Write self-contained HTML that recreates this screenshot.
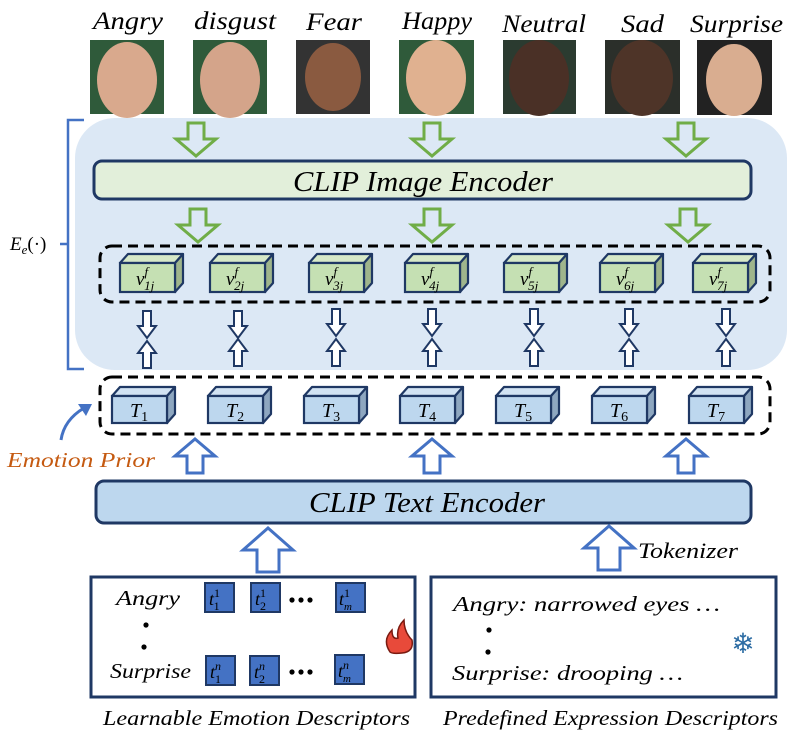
<!DOCTYPE html>
<html><head><meta charset="utf-8"><style>
html,body{margin:0;padding:0;background:#fff;}
svg{display:block;}
text{font-family:"Liberation Serif",serif;font-style:italic;}
</style></head><body>
<svg width="796" height="738" viewBox="0 0 796 738" xmlns="http://www.w3.org/2000/svg">
<defs>
<g id="cg">
<polygon points="0,0 8,-9 63,-9 55,0" fill="#d7e9c8" stroke="#1f3864" stroke-width="2.2" stroke-linejoin="round"/>
<polygon points="55,0 63,-9 63,20 55,29" fill="#9fb58c" stroke="#1f3864" stroke-width="2.2" stroke-linejoin="round"/>
<rect x="0" y="0" width="55" height="29" fill="#c5e0b3" stroke="#1f3864" stroke-width="2.2"/>
</g>
<g id="cb">
<polygon points="0,0 8,-9 63,-9 55,0" fill="#d2e3f3" stroke="#1f3864" stroke-width="2.2" stroke-linejoin="round"/>
<polygon points="55,0 63,-9 63,18 55,27" fill="#8ea7c0" stroke="#1f3864" stroke-width="2.2" stroke-linejoin="round"/>
<rect x="0" y="0" width="55" height="27" fill="#bdd7ee" stroke="#1f3864" stroke-width="2.2"/>
</g>
<polygon id="ga" points="-8,0 8,0 8,16 20,16 0,33 -20,16 -8,16" fill="none" stroke="#70ad47" stroke-width="3"/>
<polygon id="sd" points="-4,0 4,0 4,15 9,15 0,27 -9,15 -4,15" fill="#fff" stroke="#1f3864" stroke-width="2"/>
<polygon id="su" points="-4,27 4,27 4,12 9,12 0,0 -9,12 -4,12" fill="#fff" stroke="#1f3864" stroke-width="2"/>
<polygon id="bu" points="-8,34 8,34 8,17 20,17 0,0 -20,17 -8,17" fill="#fff" stroke="#4472c4" stroke-width="3"/>
<polygon id="bu2" points="-11,44 11,44 11,22 25,22 0,0 -25,22 -11,22" fill="#fff" stroke="#4472c4" stroke-width="3"/>
<g id="tsq"><rect x="0" y="0" width="29" height="29" fill="#4472c4" stroke="#1f3864" stroke-width="2"/></g>
</defs>

<g font-size="25" fill="#000" lengthAdjust="spacingAndGlyphs">
<text x="93" y="29" textLength="70" lengthAdjust="spacingAndGlyphs">Angry</text>
<text x="194" y="29" textLength="82" lengthAdjust="spacingAndGlyphs">disgust</text>
<text x="306" y="30" textLength="56" lengthAdjust="spacingAndGlyphs">Fear</text>
<text x="402" y="29" textLength="70" lengthAdjust="spacingAndGlyphs">Happy</text>
<text x="502" y="32" textLength="84" lengthAdjust="spacingAndGlyphs">Neutral</text>
<text x="621" y="32" textLength="43" lengthAdjust="spacingAndGlyphs">Sad</text>
<text x="690" y="32" textLength="93" lengthAdjust="spacingAndGlyphs">Surprise</text>
</g>
<g>
<rect x="90" y="40" width="74" height="74" fill="#2f5a3a"/><ellipse cx="127" cy="80" rx="30" ry="38" fill="#d9a98d"/>
<rect x="193" y="40" width="74" height="74" fill="#2f5a3a"/><ellipse cx="230" cy="80" rx="30" ry="38" fill="#d4a48a"/>
<rect x="296" y="40" width="74" height="74" fill="#333"/><ellipse cx="333" cy="77" rx="28" ry="34" fill="#8a5a40"/>
<rect x="399" y="40" width="75" height="74" fill="#2f5a3a"/><ellipse cx="436" cy="78" rx="30" ry="38" fill="#e0b190"/>
<rect x="503" y="40" width="73" height="74" fill="#2b3b30"/><ellipse cx="539" cy="78" rx="30" ry="38" fill="#4a3026"/>
<rect x="605" y="40" width="75" height="74" fill="#2b2f2a"/><ellipse cx="642" cy="78" rx="31" ry="38" fill="#4e3428"/>
<rect x="697" y="40" width="75" height="75" fill="#222"/><ellipse cx="734" cy="80" rx="28" ry="36" fill="#d9ad90"/>
</g>

<rect x="75" y="118" width="712" height="252" rx="40" fill="#dce8f5"/>
<path d="M84,120 H68 V369 H84 M68,244 H60" fill="none" stroke="#4472c4" stroke-width="2.5"/>
<text x="10" y="250" font-size="19">E<tspan font-size="13" dy="4">e</tspan><tspan dy="-4" style="font-style:normal">(·)</tspan></text>

<use href="#ga" x="196" y="123"/><use href="#ga" x="432" y="123"/><use href="#ga" x="686" y="123"/>
<rect x="94" y="161" width="657" height="38" rx="8" fill="#e2efda" stroke="#1f3864" stroke-width="3"/>
<text x="293" y="191" font-size="28" textLength="260" lengthAdjust="spacingAndGlyphs">CLIP Image Encoder</text>
<use href="#ga" x="198" y="209"/><use href="#ga" x="432" y="209"/><use href="#ga" x="688" y="209"/>

<rect x="100" y="246" width="670" height="56" rx="12" fill="none" stroke="#000" stroke-width="3" stroke-dasharray="10,6"/>
<g>
<use href="#cg" x="120" y="263"/><use href="#cg" x="210" y="263"/><use href="#cg" x="309" y="263"/><use href="#cg" x="405" y="263"/><use href="#cg" x="504" y="263"/><use href="#cg" x="600" y="263"/><use href="#cg" x="693" y="263"/>
</g>
<g font-size="19">
<text x="136" y="285">v<tspan font-size="13" dy="-9">f</tspan><tspan font-size="13" dx="-4" dy="14">1j</tspan></text>
<text x="226" y="285">v<tspan font-size="13" dy="-9">f</tspan><tspan font-size="13" dx="-4" dy="14">2j</tspan></text>
<text x="325" y="285">v<tspan font-size="13" dy="-9">f</tspan><tspan font-size="13" dx="-4" dy="14">3j</tspan></text>
<text x="421" y="285">v<tspan font-size="13" dy="-9">f</tspan><tspan font-size="13" dx="-4" dy="14">4j</tspan></text>
<text x="520" y="285">v<tspan font-size="13" dy="-9">f</tspan><tspan font-size="13" dx="-4" dy="14">5j</tspan></text>
<text x="616" y="285">v<tspan font-size="13" dy="-9">f</tspan><tspan font-size="13" dx="-4" dy="14">6j</tspan></text>
<text x="709" y="285">v<tspan font-size="13" dy="-9">f</tspan><tspan font-size="13" dx="-4" dy="14">7j</tspan></text>
</g>
<g>
<use href="#sd" x="147" y="311"/><use href="#su" x="147" y="341"/>
<use href="#sd" x="238" y="311"/><use href="#su" x="238" y="339"/>
<use href="#sd" x="336" y="309"/><use href="#su" x="336" y="339"/>
<use href="#sd" x="432" y="309"/><use href="#su" x="432" y="339"/>
<use href="#sd" x="534" y="309"/><use href="#su" x="534" y="339"/>
<use href="#sd" x="629" y="309"/><use href="#su" x="629" y="339"/>
<use href="#sd" x="726" y="309"/><use href="#su" x="726" y="339"/>
</g>

<rect x="100" y="377" width="670" height="57" rx="12" fill="none" stroke="#000" stroke-width="3" stroke-dasharray="10,6"/>
<g>
<use href="#cb" x="112" y="396"/><use href="#cb" x="208" y="396"/><use href="#cb" x="304" y="396"/><use href="#cb" x="400" y="396"/><use href="#cb" x="496" y="396"/><use href="#cb" x="592" y="396"/><use href="#cb" x="689" y="396"/>
</g>
<g font-size="20">
<text x="130" y="417">T<tspan font-size="14" dy="4" style="font-style:normal">1</tspan></text>
<text x="226" y="417">T<tspan font-size="14" dy="4" style="font-style:normal">2</tspan></text>
<text x="322" y="417">T<tspan font-size="14" dy="4" style="font-style:normal">3</tspan></text>
<text x="418" y="417">T<tspan font-size="14" dy="4" style="font-style:normal">4</tspan></text>
<text x="514" y="417">T<tspan font-size="14" dy="4" style="font-style:normal">5</tspan></text>
<text x="610" y="417">T<tspan font-size="14" dy="4" style="font-style:normal">6</tspan></text>
<text x="707" y="417">T<tspan font-size="14" dy="4" style="font-style:normal">7</tspan></text>
</g>

<path d="M61,440 Q64,420 84,408" fill="none" stroke="#4472c4" stroke-width="3"/>
<polygon points="92,404 78,404 86,416" fill="#4472c4"/>
<text x="7" y="467" font-size="21" fill="#c55a11" textLength="148" lengthAdjust="spacingAndGlyphs">Emotion Prior</text>

<use href="#bu" x="195" y="439"/><use href="#bu" x="432" y="439"/><use href="#bu" x="686" y="439"/>
<rect x="96" y="481" width="655" height="42" rx="8" fill="#bdd7ee" stroke="#1f3864" stroke-width="3"/>
<text x="309" y="512" font-size="28" textLength="236" lengthAdjust="spacingAndGlyphs">CLIP Text Encoder</text>

<use href="#bu2" x="268" y="528"/><use href="#bu2" x="609" y="526"/>
<text x="638" y="558" font-size="22" textLength="100" lengthAdjust="spacingAndGlyphs">Tokenizer</text>

<rect x="91" y="577" width="324" height="120" fill="#fff" stroke="#1f3864" stroke-width="3"/>
<text x="116" y="605" font-size="21" textLength="64" lengthAdjust="spacingAndGlyphs">Angry</text>
<circle cx="146" cy="625" r="2.6" fill="#000"/><circle cx="144" cy="647" r="2.6" fill="#000"/>
<text x="110" y="678" font-size="21" textLength="81" lengthAdjust="spacingAndGlyphs">Surprise</text>
<use href="#tsq" x="205" y="583"/><use href="#tsq" x="251" y="583"/><use href="#tsq" x="336" y="583"/>
<use href="#tsq" x="206" y="656"/><use href="#tsq" x="250" y="656"/><use href="#tsq" x="335" y="655"/>
<g font-size="18" fill="#000">
<text x="209" y="605">t<tspan font-size="12" dy="-8" style="font-style:normal">1</tspan><tspan font-size="12" dx="-6" dy="13" style="font-style:normal">1</tspan></text>
<text x="255" y="605">t<tspan font-size="12" dy="-8" style="font-style:normal">1</tspan><tspan font-size="12" dx="-6" dy="13" style="font-style:normal">2</tspan></text>
<text x="339" y="605">t<tspan font-size="12" dy="-8" style="font-style:normal">1</tspan><tspan font-size="11" dx="-6" dy="13">m</tspan></text>
<text x="210" y="678">t<tspan font-size="12" dy="-8">n</tspan><tspan font-size="12" dx="-6" dy="13" style="font-style:normal">1</tspan></text>
<text x="254" y="678">t<tspan font-size="12" dy="-8">n</tspan><tspan font-size="12" dx="-6" dy="13" style="font-style:normal">2</tspan></text>
<text x="338" y="677">t<tspan font-size="12" dy="-8">n</tspan><tspan font-size="11" dx="-6" dy="13">m</tspan></text>
</g>
<g fill="#000"><circle cx="292" cy="600" r="2.6"/><circle cx="301" cy="600" r="2.6"/><circle cx="310" cy="600" r="2.6"/>
<circle cx="292" cy="672" r="2.6"/><circle cx="301" cy="672" r="2.6"/><circle cx="310" cy="672" r="2.6"/></g>
<path d="M390,652 Q382,640 392,630 Q392,640 398,638 Q396,628 404,620 Q404,632 412,640 Q414,652 402,653 Q392,654 390,652 Z" fill="#e84a3a" stroke="#7a1a10" stroke-width="1.5"/>

<rect x="431" y="577" width="345" height="120" fill="#fff" stroke="#1f3864" stroke-width="3"/>
<text x="453" y="611" font-size="21" textLength="267" lengthAdjust="spacingAndGlyphs">Angry: narrowed eyes …</text>
<circle cx="489" cy="630" r="2.6" fill="#000"/><circle cx="488" cy="652" r="2.6" fill="#000"/>
<text x="452" y="680" font-size="21" textLength="231" lengthAdjust="spacingAndGlyphs">Surprise:  drooping …</text>
<text x="743" y="653" font-size="28" text-anchor="middle" fill="#2e6da4" style="font-style:normal">❄</text>

<text x="103" y="725" font-size="21" textLength="307" lengthAdjust="spacingAndGlyphs">Learnable Emotion Descriptors</text>
<text x="443" y="725" font-size="21" textLength="335" lengthAdjust="spacingAndGlyphs">Predefined Expression Descriptors</text>
</svg>
</body></html>
